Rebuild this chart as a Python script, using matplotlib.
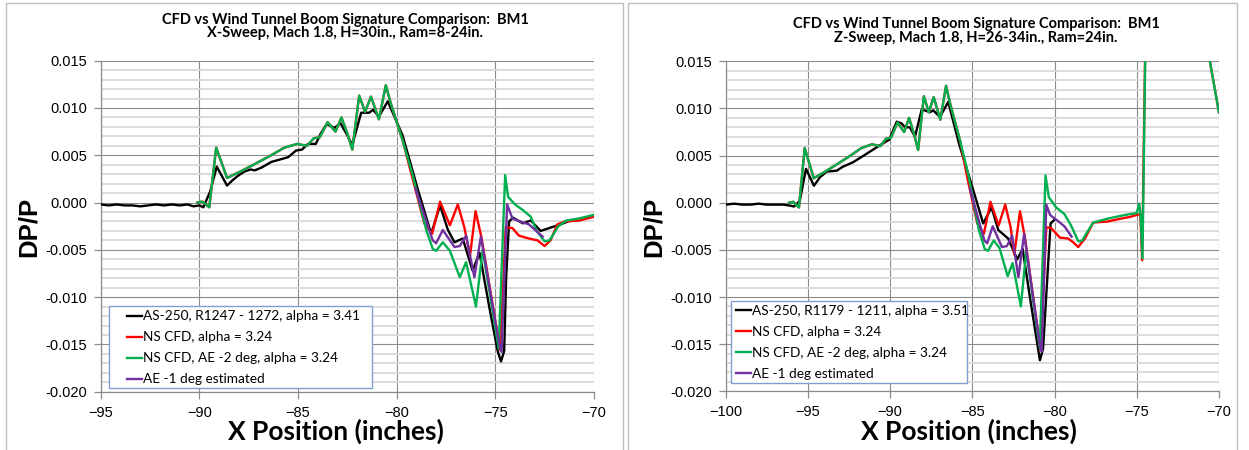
import matplotlib
matplotlib.use("Agg")
import matplotlib.pyplot as plt
from matplotlib.patches import Rectangle
from matplotlib.ticker import MultipleLocator, FormatStrFormatter

# ---------------- data ----------------
# X-sweep (left panel): wind tunnel run R1247-1272
wt_x_xsweep = [-95.0, -94.6, -94.2, -93.8, -93.4, -93.0, -92.6, -92.2, -91.8, -91.4,
               -91.0, -90.6, -90.3, -90.0, -89.8, -89.45, -89.12, -88.6, -88.3, -88.0,
               -87.7, -87.4, -87.2, -86.85, -86.35, -86.0, -85.5, -85.1, -84.8, -84.5,
               -84.1, -83.85, -83.55, -83.15, -82.85, -82.5, -82.25, -81.8, -81.4, -81.2,
               -80.9, -80.45, -79.7, -78.9, -78.25, -77.8, -77.4, -77.07, -76.65, -76.15,
               -75.8, -75.3, -74.88, -74.71, -74.55, -74.45, -74.3, -74.1, -73.6, -73.2,
               -72.7, -72.27, -71.68, -71.2]
wt_dp_xsweep = [-0.0002, -0.0003, -0.0002, -0.0003, -0.0003, -0.0004, -0.0003, -0.0002, -0.0003, -0.0002,
                -0.0003, -0.0002, -0.0004, -0.0003, -0.0005, 0.0012, 0.0038, 0.0018, 0.0024, 0.0029,
                0.0033, 0.0035, 0.0034, 0.0037, 0.0043, 0.0045, 0.0048, 0.0055, 0.0056, 0.0062,
                0.0062, 0.0073, 0.0083, 0.0079, 0.0084, 0.0071, 0.0061, 0.0095, 0.0095, 0.0098,
                0.0091, 0.0107, 0.0071, 0.0012, -0.0033, -0.0003, -0.0029, -0.0042, -0.0038, -0.0072,
                -0.0053, -0.0111, -0.0157, -0.0168, -0.0157, -0.0080, -0.0020, -0.0016, -0.0022, -0.0019,
                -0.0030, -0.0027, -0.0023, -0.0019]

# CFD forward signature, common to both NS CFD cases
cfd_dp_fore = [0.0000, 0.0001, -0.0005, 0.0058, 0.0026, 0.0032, 0.0039, 0.0049, 0.0058, 0.0062,
               0.0060, 0.0068, 0.0069, 0.0085, 0.0075, 0.0090, 0.0073, 0.0056, 0.0113, 0.0096,
               0.0112, 0.0088, 0.0124, 0.0105, 0.0066]
cfd_x_fore_xsweep = [-90.1, -89.85, -89.5, -89.15, -88.6, -88.0, -87.35, -86.45, -85.7, -85.05,
                     -84.55, -84.2, -83.9, -83.5, -83.1, -82.8, -82.5, -82.25, -81.9, -81.6,
                     -81.3, -80.9, -80.55, -80.3, -79.7]

ns_x_aft_xsweep = [-79.2, -78.6, -78.2, -77.8, -77.3, -76.9, -76.57, -76.28, -76.0, -75.7,
                   -74.75, -74.47, -74.13, -73.8, -73.3, -72.86, -72.5, -72.2, -71.85, -71.46,
                   -70.75, -70.0]
ns_dp_aft_xsweep = [0.0026, -0.0022, -0.0033, 0.0001, -0.0024, -0.0002, -0.0026, -0.0056, -0.0009, -0.0037,
                    -0.0156, -0.0026, -0.0027, -0.0035, -0.0038, -0.0040, -0.0046, -0.0040, -0.0023, -0.0020,
                    -0.0019, -0.0015]

ae2_x_aft_xsweep = [-79.2, -78.5, -78.17, -78.0, -77.66, -77.3, -76.8, -76.48, -75.98, -75.64,
                    -74.83, -74.5, -74.35, -74.0, -73.6, -73.2, -72.9, -72.5, -72.25, -71.8,
                    -71.4, -70.8, -70.0]
ae2_dp_aft_xsweep = [0.0030, -0.0029, -0.0049, -0.0051, -0.0042, -0.0051, -0.0079, -0.0063, -0.0110, -0.0050,
                     -0.0154, 0.0029, 0.0006, -0.0002, -0.0008, -0.0015, -0.0030, -0.0041, -0.0040, -0.0025,
                     -0.0019, -0.0017, -0.0013]

ae1_x_xsweep = [-79.05, -78.17, -78.0, -77.66, -77.07, -76.8, -76.48, -76.06, -75.73, -74.8,
                -74.68, -74.4, -74.13, -73.6, -73.3, -72.6]
ae1_dp_xsweep = [0.0015, -0.0040, -0.0043, -0.0029, -0.0047, -0.0046, -0.0035, -0.0079, -0.0036, -0.0150,
                 -0.0158, -0.0002, -0.0017, -0.0021, -0.0023, -0.0036]

# Z-sweep (right panel): wind tunnel run R1179-1211
wt_x_zsweep = [-100.0, -99.5, -99.0, -98.5, -98.0, -97.5, -97.0, -96.5, -96.1, -95.85,
               -95.5, -95.12, -94.64, -94.27, -93.86, -93.25, -92.9, -92.25, -91.43, -90.62,
               -90.05, -89.6, -89.3, -89.1, -88.8, -88.49, -88.08, -87.58, -87.38, -86.97,
               -86.47, -85.8, -84.94, -84.34, -83.83, -83.42, -82.82, -82.27, -81.94, -81.5,
               -80.89, -80.7, -80.24, -80.0]
wt_dp_zsweep = [-0.0002, -0.0001, -0.0002, -0.0002, -0.0001, -0.0002, -0.0002, -0.0002, -0.0003, -0.0004,
                0.0002, 0.0036, 0.0018, 0.0027, 0.0033, 0.0034, 0.0038, 0.0043, 0.0052, 0.0061,
                0.0067, 0.0086, 0.0084, 0.0080, 0.0080, 0.0070, 0.0099, 0.0096, 0.0098, 0.0091,
                0.0107, 0.0062, 0.0013, -0.0022, -0.0005, -0.0029, -0.0038, -0.0060, -0.0049, -0.0100,
                -0.0167, -0.0155, -0.0022, -0.0018]

cfd_x_fore_zsweep = [-96.15, -95.9, -95.55, -95.2, -94.65, -94.05, -93.4, -92.5, -91.75, -91.1,
                     -90.6, -90.25, -89.95, -89.55, -89.15, -88.85, -88.55, -88.3, -87.95, -87.65,
                     -87.35, -86.95, -86.6, -86.35, -85.75]

ns_x_aft_zsweep = [-85.3, -84.7, -84.3, -83.9, -83.4, -83.0, -82.67, -82.45, -82.1, -81.8,
                   -80.85, -80.5, -80.2, -79.67, -79.17, -78.86, -78.56, -78.15, -77.65, -76.8,
                   -76.0, -75.4, -75.0, -74.78, -74.67, -74.2, -70.0]
ns_dp_aft_zsweep = [0.0026, -0.0022, -0.0033, 0.0001, -0.0024, -0.0002, -0.0026, -0.0055, -0.0009, -0.0037,
                    -0.0156, -0.0026, -0.0027, -0.0037, -0.0038, -0.0042, -0.0047, -0.0038, -0.0021, -0.0020,
                    -0.0017, -0.0015, -0.0013, -0.0012, -0.0061, 0.0510, 0.0096]

ae2_x_aft_zsweep = [-85.25, -84.6, -84.25, -84.05, -83.7, -83.35, -82.85, -82.55, -82.05, -81.72,
                    -80.9, -80.55, -80.35, -79.9, -79.4, -79.0, -78.55, -78.3, -78.15, -77.65,
                    -76.8, -76.0, -75.4, -75.0, -74.85, -74.77, -74.65, -74.2, -70.0]
ae2_dp_aft_zsweep = [0.0030, -0.0029, -0.0049, -0.0051, -0.0040, -0.0048, -0.0078, -0.0064, -0.0110, -0.0051,
                     -0.0154, 0.0029, 0.0006, -0.0005, -0.0012, -0.0024, -0.0041, -0.0040, -0.0035, -0.0021,
                     -0.0017, -0.0014, -0.0012, -0.0011, -0.0001, -0.0012, -0.0059, 0.0510, 0.0096]

ae1_x_zsweep = [-85.15, -84.27, -84.1, -83.76, -83.2, -82.9, -82.58, -82.2, -81.85, -80.9,
                -80.78, -80.5, -80.27, -79.82, -79.4, -78.96]
ae1_dp_zsweep = [0.0015, -0.0040, -0.0043, -0.0025, -0.0047, -0.0046, -0.0035, -0.0079, -0.0033, -0.0150,
                 -0.0158, -0.0002, -0.0013, -0.0019, -0.0025, -0.0036]

title_line1 = "CFD vs Wind Tunnel Boom Signature Comparison:  BM1"
title_line2 = ["X-Sweep, Mach 1.8, H=30in., Ram=8-24in.",
               "Z-Sweep, Mach 1.8, H=26-34in., Ram=24in."]
wt_labels = ["AS-250, R1247 - 1272, alpha = 3.41", "AS-250, R1179 - 1211, alpha = 3.51"]
ns_label = "NS CFD, alpha = 3.24"
ae2_label = "NS CFD, AE -2 deg, alpha = 3.24"
ae1_label = "AE -1 deg estimated"
x_ranges = [(-95, -70), (-100, -70)]

# ---------------- figure ----------------
W, H, DPI = 1249, 450, 100
fig = plt.figure(figsize=(W / DPI, H / DPI), dpi=DPI)
fig.patch.set_facecolor("white")


def fx(px):
    return px / W


def fy(py):
    return 1 - py / H


# chart-area borders
for l, r in [(6, 623), (628, 1237)]:
    fig.patches.append(Rectangle((fx(l), fy(460)), fx(r) - fx(l), fy(3) - fy(460),
                                 transform=fig.transFigure, fill=False,
                                 edgecolor="#BFBFBF", linewidth=1.0))

C_WT, C_NS, C_AE2, C_AE1 = "#000000", "#FF0000", "#00B050", "#7030A0"
LW = 1.7
TICK_FONT = dict(family="Liberation Sans", size=10.5)
LEG_FONT = dict(family="Lato", size=9.8)

panels = [
    dict(box=(100.8, 593.9, 60.7, 391.7), title_x=345, title_y=(20, 33.5),
         xlab_xy=(336, 431), ylab_xy=(29, 227),
         legend_anchor=(127.0, 310.5), legend_box=(108.8, 371.9, 306, 388.3),
         wt=(wt_x_xsweep, wt_dp_xsweep),
         ns=(cfd_x_fore_xsweep + ns_x_aft_xsweep, cfd_dp_fore + ns_dp_aft_xsweep),
         ae2=(cfd_x_fore_xsweep + ae2_x_aft_xsweep, cfd_dp_fore + ae2_dp_aft_xsweep),
         ae1=(ae1_x_xsweep, ae1_dp_xsweep)),
    dict(box=(725.8, 1218.9, 61.3, 391.3), title_x=976, title_y=(24.3, 38.3),
         xlab_xy=(969, 431), ylab_xy=(654, 227),
         legend_anchor=(736.0, 305.0), legend_box=(730.6, 967.0, 301, 382.7),
         wt=(wt_x_zsweep, wt_dp_zsweep),
         ns=(cfd_x_fore_zsweep + ns_x_aft_zsweep, cfd_dp_fore + ns_dp_aft_zsweep),
         ae2=(cfd_x_fore_zsweep + ae2_x_aft_zsweep, cfd_dp_fore + ae2_dp_aft_zsweep),
         ae1=(ae1_x_zsweep, ae1_dp_zsweep)),
]

for i, p in enumerate(panels):
    l, r, t, b = p["box"]
    ax = fig.add_axes([fx(l), fy(b), fx(r) - fx(l), fy(t) - fy(b)])
    ax.set_xlim(*x_ranges[i])
    ax.set_ylim(-0.020, 0.015)

    ax.xaxis.set_major_locator(MultipleLocator(5))
    ax.yaxis.set_major_locator(MultipleLocator(0.005))
    ax.yaxis.set_minor_locator(MultipleLocator(0.001))
    ax.yaxis.set_major_formatter(FormatStrFormatter("%.3f"))

    ax.grid(True, which="minor", axis="y", color="#D9D9D9", linewidth=1.3, zorder=0)
    ax.grid(True, which="major", axis="both", color="#8C8C8C", linewidth=0.8, zorder=0.5)
    ax.set_axisbelow(True)

    for side in ("top", "right"):
        ax.spines[side].set_visible(False)
    for side in ("left", "bottom"):
        ax.spines[side].set_color("#8C8C8C")
        ax.spines[side].set_linewidth(0.9)

    ax.tick_params(which="major", direction="out", length=5, width=0.9, color="#8C8C8C",
                   pad=5)
    ax.tick_params(which="minor", length=0)
    for lab in ax.get_xticklabels() + ax.get_yticklabels():
        lab.set_fontfamily(TICK_FONT["family"])
        lab.set_fontsize(TICK_FONT["size"])

    h_wt, = ax.plot(*p["wt"], color=C_WT, lw=LW, label=wt_labels[i], solid_joinstyle="round", zorder=3)
    h_ns, = ax.plot(*p["ns"], color=C_NS, lw=LW, label=ns_label, solid_joinstyle="round", zorder=3)
    h_ae2, = ax.plot(*p["ae2"], color=C_AE2, lw=LW, label=ae2_label, solid_joinstyle="round", zorder=3)
    h_ae1, = ax.plot(*p["ae1"], color=C_AE1, lw=LW, label=ae1_label, solid_joinstyle="round", zorder=3)

    # chart title (two lines)
    y1, y2 = p["title_y"]
    fig.text(fx(p["title_x"]), fy(y1), title_line1, ha="center", va="center", family="Lato",
             weight="bold", fontsize=10.5)
    fig.text(fx(p["title_x"]), fy(y2), title_line2[i], ha="center", va="center", family="Lato",
             weight="bold", fontsize=10.5)

    # axis titles
    xx, xy = p["xlab_xy"]
    fig.text(fx(xx), fy(xy), "X Position (inches)", ha="center", va="center",
             family="Lato", weight="bold", fontsize=19)
    yx, yy = p["ylab_xy"]
    fig.text(fx(yx), fy(yy), "DP/P", ha="center", va="center", rotation=90,
             family="Liberation Sans", weight="bold", fontsize=18.5)

    # legend with its own framed box
    bl, br, bt, bb = p["legend_box"]
    ax.add_patch(Rectangle((fx(bl), fy(bb)), fx(br) - fx(bl), fy(bt) - fy(bb),
                           transform=fig.transFigure, facecolor="white", clip_on=False,
                           edgecolor="#7F9FCF", linewidth=1.0, zorder=4))
    ax_l, ax_t = p["legend_anchor"]
    leg = ax.legend(handles=[h_wt, h_ns, h_ae2, h_ae1], loc="upper left",
                    bbox_to_anchor=(fx(ax_l), fy(ax_t)), bbox_transform=fig.transFigure,
                    frameon=False, prop=LEG_FONT, handlelength=1.1, handletextpad=0.05,
                    labelspacing=0.66, borderpad=0.0, borderaxespad=0.0)
    leg.set_zorder(5)

fig.savefig("out.png", dpi=DPI, facecolor="white")
